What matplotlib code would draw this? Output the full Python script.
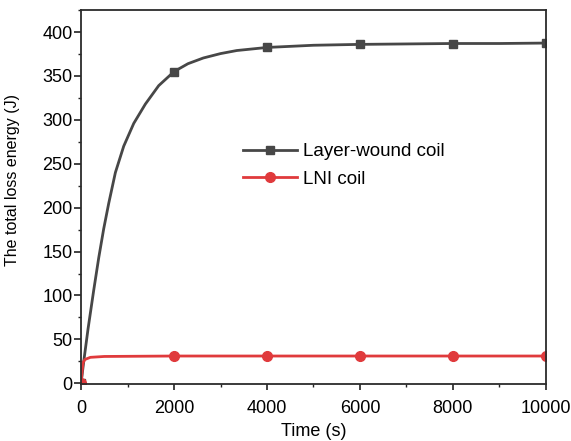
"""Total loss energy vs time for layer-wound and LNI coils."""
import matplotlib.pyplot as plt
from matplotlib.ticker import MultipleLocator

plt.rcParams["font.family"] = ["Liberation Sans", "DejaVu Sans"]

# values
layer_t = [0, 60, 150, 272, 380, 487, 595, 738, 917, 1133, 1383, 1670,
           2000, 2300, 2630, 3000, 3350, 4000, 5000, 6000, 7000, 8000,
           9000, 10000]
layer_e = [0, 26, 62, 106, 143, 176, 205, 240, 270, 296, 318, 339,
           355, 364, 370.5, 375.5, 379, 382.5, 385, 386, 386.5, 387,
           387, 387.5]
layer_marks = [0, 12, 17, 19, 21, 23]

lni_t = [0, 20, 40, 80, 200, 500, 2000, 4000, 6000, 8000, 10000]
lni_e = [0, 12, 23, 27, 29.5, 30.5, 31, 31, 31, 31, 31]
lni_marks = [0, 6, 7, 8, 9, 10]

fig = plt.figure(figsize=(5.71, 4.41), dpi=100)
ax = fig.add_axes([0.142, 0.129, 0.814, 0.848])

ax.plot(layer_t, layer_e, "-s", color="#474747", lw=2.0, ms=6,
        markevery=layer_marks, label="Layer-wound coil")
ax.plot(lni_t, lni_e, "-o", color="#e03a3c", lw=2.0, ms=7,
        markevery=lni_marks, label="LNI coil")

ax.set_xlim(0, 10000)
ax.set_ylim(-1, 425)
ax.xaxis.set_major_locator(MultipleLocator(2000))
ax.xaxis.set_minor_locator(MultipleLocator(1000))
ax.yaxis.set_major_locator(MultipleLocator(50))
ax.yaxis.set_minor_locator(MultipleLocator(25))
ax.tick_params(which="both", direction="out", labelsize=13, color="#222222")
ax.tick_params(axis="x", which="major", length=4.5, width=1.2, pad=7)
ax.tick_params(axis="x", which="minor", length=2.5, width=1.0)
ax.tick_params(axis="y", which="major", length=5, width=1.2, pad=1)
ax.tick_params(axis="y", which="minor", length=2.5, width=1.0)
for s in ax.spines.values():
    s.set_linewidth(1.3)
    s.set_color("#2b2b2b")

ax.set_xlabel("Time (s)", fontsize=13, labelpad=4)
ax.set_ylabel("The total loss energy (J)", fontsize=11.5)
ax.yaxis.set_label_coords(-0.131, 0.545)

ax.legend(loc="upper left", bbox_to_anchor=(0.312, 0.69), frameon=False,
          fontsize=13.5, handlelength=2.9, handletextpad=0.3,
          labelspacing=0.55)

fig.savefig("out.png", dpi=100)
